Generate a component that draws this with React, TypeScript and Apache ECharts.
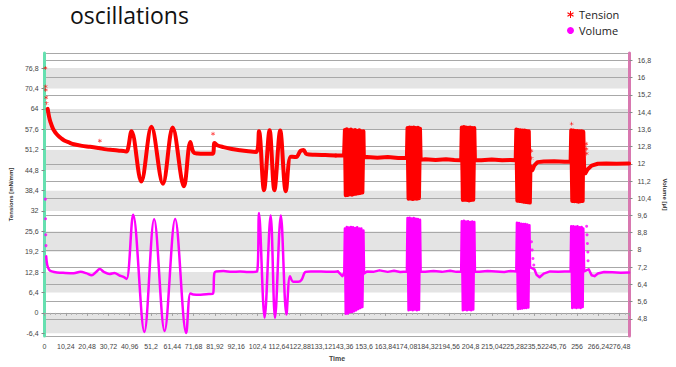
import React, { useEffect, useRef } from 'react';
import * as echarts from 'echarts';

// ---------- axis ticks ----------
const leftTickValues = [-6.4, 0, 6.4, 12.8, 19.2, 25.6, 32, 38.4, 44.8, 51.2, 57.6, 64, 70.4, 76.8];
const leftRange = [-7.24, 81.53];
const rightRange = [4.0, 17.15];
const rightStep = 0.8;
const timeRange = [0, 281.2];
const timeStep = 10.24;

// ---------- Tension (left axis) ----------
const tensionSparse = [
  [0.4, 76.8], [0.5, 71.0], [0.6, 69.9], [0.8, 67.6], [1.0, 65.8], [26.6, 54.0],
  [81.0, 56.2], [253.4, 59.3], [260.4, 53.1], [260.5, 51.4], [260.6, 50.0], [234.0, 50.9], [234.2, 48.5],
];
const tensionDecay = [
  [1.5, 64.0], [2.2, 61.5], [2.9, 59.8], [4.1, 57.7], [5.2, 56.6], [6.4, 55.7], [8, 54.8], [9.5, 54.1],
  [12, 53.4], [14.1, 52.9], [18, 52.4], [21.9, 52.1], [26, 51.7], [29.7, 51.3], [33, 51.1], [35.9, 50.9],
  [38, 50.8], [39.4, 50.6],
];
const tensionOsc1 = [
  [41.8, 57.0], [46.5, 41.2], [51.4, 58.4], [56.9, 40.5], [61.6, 58.2], [67.0, 39.7], [70.1, 53.6],
  [71.6, 50.4], [73.5, 50.0], [77, 49.9], [80.8, 49.9],
];
const tensionMid = [[81.7, 53.3], [83, 52.6], [86, 52.0], [90, 51.4], [94, 51.0], [98, 50.7], [101.8, 50.5]];
const tensionOsc2 = [
  [103.1, 57.0], [105.5, 38.5], [108.2, 57.3], [110.5, 38.5], [113.3, 57.2], [116.0, 38.2], [118.4, 49.0],
  [121, 48.9], [123, 50.8], [124.5, 51.1], [126, 49.8], [130, 49.6], [135, 49.5], [140, 49.4],
];
const tensionBlock1 = [
  [140, 49.4], [144.0, 49.4], [144.4, 57.4], [144.8, 36.9], [145.3, 57.6], [145.8, 37.0], [146.3, 57.3],
  [146.8, 37.2], [147.3, 57.5], [147.8, 37.1], [148.3, 57.2], [148.8, 37.3], [149.3, 57.4], [149.8, 37.4],
  [150.3, 57.1], [150.8, 37.5], [151.3, 57.3], [151.8, 37.6], [152.3, 57.0], [152.8, 37.8], [153.3, 57.0],
  [153.5, 48.8],
];
const tensionFlat1 = [[155, 48.9], [160, 48.7], [165, 48.9], [170, 48.6], [174.2, 48.6]];
const tensionBlock2 = [
  [174.5, 58.0], [175.0, 35.8], [175.5, 58.2], [176.0, 35.9], [176.5, 58.1], [177.0, 35.7], [177.5, 58.2],
  [178.0, 35.9], [178.5, 58.0], [179.0, 35.8], [179.5, 58.1], [180.0, 36.0], [180.5, 57.8], [180.8, 48.0],
];
const tensionFlat2 = [[183, 48.2], [188, 48.0], [193, 48.2], [197, 48.0], [200.3, 47.9]];
const tensionBlock3 = [
  [200.6, 58.2], [201.1, 35.4], [201.6, 58.3], [202.1, 35.5], [202.6, 58.2], [203.1, 35.4], [203.6, 58.1],
  [204.1, 35.3], [204.6, 58.2], [205.1, 35.4], [205.6, 58.0], [206.1, 35.5], [206.6, 58.0], [206.9, 47.9],
];
const tensionFlat3 = [[210, 47.9], [215, 48.1], [220, 47.9], [224, 48.0], [226.5, 47.9]];
const tensionBlock4 = [
  [226.8, 57.5], [227.3, 35.2], [227.8, 57.4], [228.3, 35.1], [228.8, 57.3], [229.3, 35.0], [229.8, 57.2],
  [230.3, 34.9], [230.8, 57.2], [231.3, 34.8], [231.8, 57.1], [232.3, 34.7], [232.8, 57.0], [233.3, 34.6],
  [233.6, 46.0], [234.5, 44.8], [235.5, 46.3], [237, 47.3],
];
const tensionFlat4 = [[240, 47.5], [245, 47.6], [250, 47.4], [252.9, 47.4]];
const tensionBlock5 = [
  [253.2, 57.3], [253.7, 35.1], [254.2, 57.2], [254.7, 35.0], [255.2, 57.1], [255.7, 35.0], [256.2, 57.1],
  [256.7, 34.9], [257.2, 57.0], [257.7, 35.0], [258.2, 57.0], [258.7, 35.1], [259.0, 56.8], [259.4, 45.5],
  [260.0, 43.8], [261, 45.0], [263, 46.2], [266, 46.8], [270, 46.9], [275, 46.8], [281, 46.9],
];

// ---------- Volume (right axis) ----------
const volumeSparse = [
  [0.4, 10.36], [0.5, 9.45], [0.6, 8.7], [0.7, 8.2], [234.1, 8.38], [234.4, 8.0], [234.8, 7.6], [235.2, 7.3],
  [260.6, 9.1], [260.8, 8.7], [261.0, 8.3], [261.2, 7.9], [261.3, 7.5],
];
const volumeStart = [
  [0.8, 7.7], [1.3, 7.3], [2.2, 7.08], [3.5, 7.0], [6, 6.95], [10, 6.93], [14, 6.92], [17.3, 6.98], [20, 6.92],
  [22.7, 6.82], [24.5, 6.95], [26.6, 7.11], [28.5, 6.98], [31.2, 6.88], [33.6, 6.93], [35.9, 6.82], [38.2, 6.73],
  [39.5, 6.65],
];
const volumeOsc1 = [
  [42.6, 9.63], [48.0, 4.19], [52.7, 9.42], [57.7, 4.23], [62.8, 9.44], [68.1, 4.14], [70.1, 5.98], [71.5, 5.93],
  [75, 5.92], [79, 5.95], [81.0, 5.97],
];
const volumeMid = [[81.6, 6.9], [82.5, 7.0], [86, 7.02], [90, 6.98], [94, 7.0], [98, 6.97], [102.2, 7.0]];
const volumeOsc2 = [
  [103.1, 9.72], [105.8, 4.85], [108.7, 9.6], [110.8, 4.85], [113.6, 9.6], [116.3, 5.0], [118, 6.78],
  [119.5, 6.52], [122, 6.52], [123.5, 6.6], [125.5, 6.98], [128, 7.0], [133, 7.0], [138, 6.98], [141, 7.0],
];
const volumeBlock1 = [
  [141, 7.0], [143.2, 6.78], [144.1, 6.95], [144.4, 9.0], [144.8, 5.03], [145.3, 9.06], [145.8, 5.05],
  [146.3, 9.04], [146.8, 5.1], [147.3, 9.06], [147.8, 5.12], [148.3, 9.05], [148.8, 5.15], [149.3, 9.02],
  [149.8, 5.2], [150.3, 9.05], [150.8, 5.25], [151.3, 9.0], [151.8, 5.3], [152.3, 9.0], [152.8, 5.35],
  [153.3, 8.9], [153.6, 6.9],
];
const volumeFlat1 = [[155, 7.0], [158, 6.98], [161, 7.05], [165, 6.98], [168, 7.03], [171, 6.97], [174.2, 7.0]];
const volumeBlock2 = [
  [174.5, 9.48], [175.0, 5.2], [175.5, 9.5], [176.0, 5.22], [176.5, 9.46], [177.0, 5.2], [177.5, 9.48],
  [178.0, 5.23], [178.5, 9.45], [179.0, 5.2], [179.5, 9.44], [180.0, 5.22], [180.5, 9.4], [180.8, 7.0],
];
const volumeFlat2 = [[183, 6.98], [187, 7.02], [191, 6.98], [195, 7.03], [198, 6.98], [200.3, 7.0]];
const volumeBlock3 = [
  [200.6, 9.33], [201.1, 5.2], [201.6, 9.35], [202.1, 5.22], [202.6, 9.32], [203.1, 5.2], [203.6, 9.33],
  [204.1, 5.22], [204.6, 9.3], [205.1, 5.2], [205.6, 9.32], [206.1, 5.23], [206.6, 9.3], [206.9, 7.0],
];
const volumeFlat3 = [[209, 6.98], [213, 7.02], [217, 7.0], [221, 6.97], [224, 7.02], [226.8, 7.0]];
const volumeBlock4 = [
  [227.1, 9.26], [227.6, 5.26], [228.1, 9.25], [228.6, 5.27], [229.1, 9.22], [229.6, 5.28], [230.1, 9.2],
  [230.6, 5.3], [231.1, 9.2], [231.6, 5.3], [232.1, 9.18], [232.6, 5.32], [233.1, 9.15], [233.4, 7.2],
  [235.5, 7.1], [236.5, 6.85], [238, 6.73], [240, 6.9], [243, 7.0], [247, 6.98], [250, 7.0], [252.9, 7.0],
];
const volumeBlock5 = [
  [253.2, 9.1], [253.7, 5.3], [254.2, 9.1], [254.7, 5.32], [255.2, 9.08], [255.7, 5.3], [256.2, 9.1],
  [256.7, 5.33], [257.2, 9.05], [257.7, 5.3], [258.2, 9.06], [258.7, 5.35], [259.0, 9.0], [259.4, 7.0],
  [261.6, 7.1], [263, 6.82], [264.4, 6.78], [266, 6.9], [269, 6.97], [273, 6.96], [277, 6.94], [281, 6.95],
];

const ASTERISK =
  'path://M4.3,0H5.7V10H4.3Z M1.02,1.89L9.68,6.89L8.98,8.11L0.32,3.11Z M0.32,6.89L8.98,1.89L9.68,3.11L1.02,8.11Z';

const fmt = (v: number) => String(Math.round(v * 100) / 100).replace('.', ',');

const RED = '#ff0000';
const MAGENTA = '#ff00ff';

export default function App() {
  const ref = useRef<HTMLDivElement>(null);
  useEffect(() => {
    const chart = echarts.init(ref.current!, null, { renderer: 'svg' });
    const redLine = { color: RED, width: 4, join: 'round', cap: 'round' };
    const magLine = { color: MAGENTA, width: 2.5, join: 'round', cap: 'round' };
    const option: any = {
      animation: false,
      backgroundColor: '#ffffff',
      title: {
        text: 'oscillations',
        left: 70,
        top: 3,
        padding: 0,
        textStyle: { fontFamily: 'Open Sans', fontSize: 23, lineHeight: 23, fontWeight: 'normal', color: '#111' },
      },
      legend: {
        orient: 'vertical',
        left: 562,
        top: 3,
        itemWidth: 7,
        itemHeight: 7,
        itemGap: 3,
        selectedMode: false,
        textStyle: { fontFamily: 'Open Sans', fontSize: 11, color: '#222', lineHeight: 13 },
        data: [
          { name: 'Tension', icon: ASTERISK, itemStyle: { color: RED } },
          { name: 'Volume', icon: 'circle', itemStyle: { color: MAGENTA } },
        ],
      },
      grid: { left: 43, right: 30, top: 53, bottom: 27 },
      xAxis: {
        type: 'value',
        min: timeRange[0],
        max: timeRange[1],
        interval: timeStep,
        name: 'Time',
        nameLocation: 'middle',
        nameGap: 19,
        nameTextStyle: { fontFamily: 'Liberation Sans', fontSize: 7, fontWeight: 'bold', color: '#444' },
        axisLine: { lineStyle: { color: '#a0a0a0', width: 1 } },
        axisTick: { length: 3, lineStyle: { color: '#a0a0a0' } },
        minorTick: { show: true, splitNumber: 4, length: 2, lineStyle: { color: '#b0b0b0' } },
        splitLine: { show: false },
        axisLabel: {
          fontFamily: 'Liberation Sans',
          fontSize: 7,
          color: '#444',
          margin: 7,
          showMaxLabel: false,
          formatter: (v: number) => fmt(v),
        },
      },
      yAxis: [
        {
          type: 'value',
          position: 'left',
          min: leftRange[0],
          max: leftRange[1],
          name: 'Tensions [mN/mm]',
          nameLocation: 'middle',
          nameRotate: 90,
          nameGap: 30,
          nameTextStyle: { fontFamily: 'Liberation Sans', fontSize: 6, fontWeight: 'bold', color: '#333' },
          axisLine: { show: true, lineStyle: { color: '#66e0b0', width: 3 } },
          axisTick: { show: true, length: 3, customValues: leftTickValues, lineStyle: { color: '#888' } },
          axisLabel: {
            customValues: leftTickValues,
            fontFamily: 'Liberation Sans',
            fontSize: 7,
            color: '#444',
            margin: 6,
            formatter: (v: number) => fmt(v),
          },
          splitLine: { show: false },
          splitArea: { show: true, areaStyle: { color: ['#e4e4e4', '#ffffff'] } },
        },
        {
          type: 'value',
          position: 'right',
          min: rightRange[0],
          max: rightRange[1],
          interval: rightStep,
          name: 'Volume [µl]',
          nameLocation: 'middle',
          nameRotate: -90,
          nameGap: 28,
          nameTextStyle: { fontFamily: 'Liberation Sans', fontSize: 6, fontWeight: 'bold', color: '#333' },
          axisLine: { show: true, lineStyle: { color: '#d878b0', width: 3 } },
          axisTick: { show: true, length: 3, lineStyle: { color: '#888' } },
          axisLabel: {
            fontFamily: 'Liberation Sans',
            fontSize: 7,
            color: '#444',
            margin: 8,
            showMinLabel: false,
            showMaxLabel: false,
            formatter: (v: number) => fmt(v),
          },
          splitLine: { show: true, lineStyle: { color: '#a8a8a8', width: 1 } },
          splitArea: { show: false },
        },
      ],
      series: [
        {
          name: 'Volume', type: 'line', yAxisIndex: 1, smooth: 0.35, showSymbol: false,
          itemStyle: { color: MAGENTA }, lineStyle: magLine,
          data: [...volumeStart, ...volumeOsc1, ...volumeMid, ...volumeOsc2],
        },
        {
          name: 'Volume', type: 'line', yAxisIndex: 1, smooth: false, showSymbol: false,
          itemStyle: { color: MAGENTA }, lineStyle: magLine,
          data: [
            ...volumeBlock1, ...volumeFlat1, ...volumeBlock2, ...volumeFlat2, ...volumeBlock3,
            ...volumeFlat3, ...volumeBlock4, ...volumeBlock5,
          ],
        },
        {
          name: 'Volume', type: 'scatter', yAxisIndex: 1, symbol: 'circle', symbolSize: 3,
          itemStyle: { color: MAGENTA }, data: volumeSparse,
        },
        {
          name: 'Tension', type: 'line', yAxisIndex: 0, smooth: 0.35, showSymbol: false,
          itemStyle: { color: RED }, lineStyle: redLine,
          data: [...tensionDecay, ...tensionOsc1, ...tensionMid, ...tensionOsc2],
        },
        {
          name: 'Tension', type: 'line', yAxisIndex: 0, smooth: false, showSymbol: false,
          itemStyle: { color: RED }, lineStyle: redLine,
          data: [
            ...tensionBlock1, ...tensionFlat1, ...tensionBlock2, ...tensionFlat2, ...tensionBlock3,
            ...tensionFlat3, ...tensionBlock4, ...tensionFlat4, ...tensionBlock5,
          ],
        },
        {
          name: 'Tension', type: 'scatter', yAxisIndex: 0, symbol: ASTERISK, symbolSize: 4,
          itemStyle: { color: RED }, data: tensionSparse,
        },
      ],
    };
    chart.setOption(option);
    return () => chart.dispose();
  }, []);
  return (
    <div
      ref={ref}
      style={{ position: 'fixed', left: 0, top: 0, width: 676, height: 367 }}
    />
  );
}
